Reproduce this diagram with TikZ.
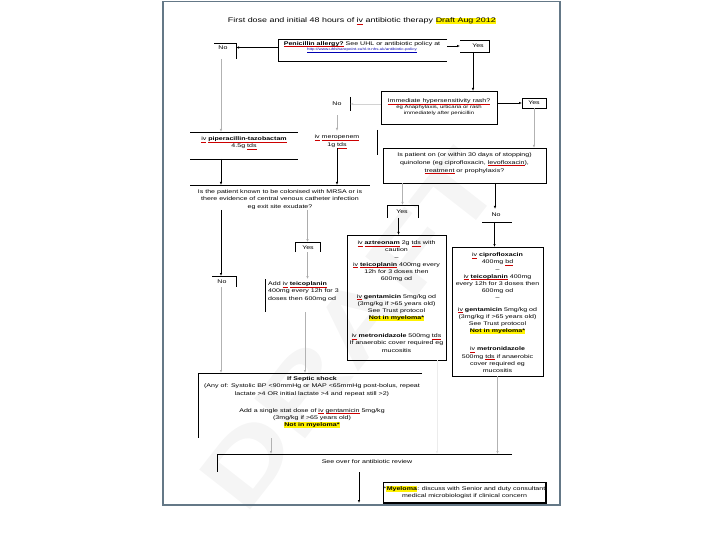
\documentclass[tikz,border=0pt]{standalone}
\usepackage{fontspec}
\setmainfont{Liberation Sans}[FakeStretch=1.33]
\usetikzlibrary{arrows.meta}
\definecolor{framec}{RGB}{100,120,135}
\newcommand\rul[1]{\setbox0\hbox{#1}\rlap{\color{red!80!black}\smash{\rule[-1.1pt]{\wd0}{0.3pt}}}\box0\relax}
\newcommand\hlt[1]{{\setlength{\fboxsep}{0.3pt}\colorbox{yellow}{#1}}}
\begin{document}
\begin{tikzpicture}[x=1pt,y=-1pt,
  txt/.style={font=\fontsize{5.3}{7.1}\selectfont, inner sep=0pt, align=center},
  bx/.style={inner sep=0pt, outer sep=0pt},
  edge/.style={line width=0.8pt, black},
  arr/.style={-{Latex[length=3pt,width=2.4pt]}, line width=0.6pt, black},
  garr/.style={-{Latex[length=3pt,width=2.4pt]}, line width=0.6pt, gray!60},
  tarr/.style={-{Latex[length=3pt,width=2.6pt]}, line width=1.5pt, gray!65}]
\useasboundingbox (0,0) rectangle (720,540);
% watermark
\node[rotate=52, text=gray!8, inner sep=0, font=\fontsize{94}{94}\selectfont\bfseries] (wm) at (350,330) {DRAFT};
% frame
\draw[framec, line width=1.2pt] (163,1.5) rectangle (560,505);
% title
\node[inner sep=0, font=\fontsize{6.7}{9}\selectfont] (title) at (362,21) {First dose and initial 48 hours of \rul{iv} antibiotic therapy \hlt{Draft Aug 2012}};
% penicillin
\node[bx, minimum width=169pt, minimum height=22pt] (pen) at (362.5,50) {};
\draw[edge] (pen.north east) -- (pen.north west) -- (pen.south west) -- (pen.south east);
\node[txt, anchor=north] (penT) at (362,41.3) {\rul{\textbf{Penicillin allergy?}} See UHL or antibiotic policy at\\[-2.2pt] {\fontsize{3.4}{4.5}\selectfont\color{blue!70!black}\underline{http://www.uhlsharepoint.xuhl-tr.nhs.uk/antibiotic-policy}}};
% No A
\node[bx, minimum width=22pt, minimum height=16pt] (noA) at (225,51) {};
\draw[edge] (noA.north west) -- (noA.north east) -- (noA.south east);
\node[txt] (noAt) at (223,48) {No};
\coordinate (pa) at ([yshift=2.5pt]pen.west);
\draw[arr] (pa) -- (noA.east |- pa);
% Yes A
\node[bx, minimum width=29pt, minimum height=12pt] (yesA) at (474.5,46) {};
\draw[edge] (yesA.north west) -- (yesA.north east) -- (yesA.south east) -- (yesA.south west);
\node[txt] (yesAt) at (478,46) {Yes};
\draw[arr] ([yshift=4pt]pen.east) -- (yesA.west);
% hypersensitivity
\node[bx, minimum width=116pt, minimum height=33pt] (hyp) at (439,107.5) {};
\draw[edge] (hyp.north west) rectangle (hyp.south east);
\node[txt, anchor=north] (hypT) at (439,98.8) {\rul{Immediate hypersensitivity rash?}\\[-1.5pt] {\fontsize{4.5}{6}\selectfont eg Anaphylaxis, urticaria or rash}\\[-1.5pt]{\fontsize{4.5}{6}\selectfont immediately after penicillin}};
\draw[arr] ([xshift=-1.5pt]yesA.south) -- ([xshift=-1.5pt]yesA.south |- hyp.north);
% Yes B
\node[bx, minimum width=24pt, minimum height=10pt] (yesB) at (534,103) {};
\draw[edge] (yesB.north west) rectangle (yesB.south east);
\node[txt] (yesBt) at (534,103) {Yes};
\draw[arr] (hyp.east |- yesB.west) -- (yesB.west);
% No B
\node[bx, minimum width=12pt, minimum height=14pt] (noB) at (344,104) {};
\draw[edge] (noB.north east) -- (noB.south east);
\node[txt] (noBt) at (337,104) {No};
\draw[arr, gray!35] (hyp.west |- noB.east) -- (noB.east);
% meropenem
\node[bx, minimum width=80pt, minimum height=25pt] (mero) at (337,142.5) {};
\draw[edge] (mero.north east) -- (mero.south east);
\node[txt, anchor=north] (meroT) at (337,134.8) {\rul{iv} \rul{meropenem}\\[1pt] 1g \rul{tds}};
\draw[garr] ([yshift=-9pt]noBt.south) -- ([yshift=-1pt]noBt.south |- mero.north);
% piperacillin
\node[bx, minimum width=108pt, minimum height=27pt] (pip) at (244,145.5) {};
\draw[edge] (pip.north west) -- (pip.north east);
\draw[edge] (pip.south west) -- (pip.south east);
\node[txt, anchor=north] (pipT) at (244,136.8) {\rul{iv} \rul{\textbf{piperacillin-tazobactam}}\\ 4.5g \rul{tds}};
\draw[garr] ([xshift=-4pt]noA.south) -- ([xshift=-4pt]noA.south |- pip.north);
% quinolone
\node[bx, minimum width=163pt, minimum height=35pt] (quin) at (464.5,165.5) {};
\draw[edge] (quin.north west) rectangle (quin.south east);
\node[txt, anchor=north] (quinT) at (464.5,152.8) {Is patient on (or within 30 days of stopping)\\[0.5pt] quinolone (eg ciprofloxacin, \rul{levofloxacin}),\\[0.5pt] \rul{treatment} or prophylaxis?};
\draw[garr] (yesB.south) -- (yesB.south |- quin.north);
% MRSA
\node[bx, minimum width=180pt, minimum height=25pt] (mrsa) at (280,197.5) {};
\draw[edge] (mrsa.north west) -- (mrsa.north east);
\node[txt, anchor=north] (mrsaT) at (280,189.8) {Is the patient known to be colonised with MRSA or is\\ there evidence of central venous catheter infection\\ eg exit site exudate?};
\draw[arr] ([xshift=-23pt]pip.south) -- ([xshift=-23pt]pip.south |- mrsa.north);
\draw[arr] (meroT.south) -- (meroT.south |- mrsa.north);
% Yes C (quinolone yes)
\node[bx, minimum width=31pt, minimum height=13pt] (yesC) at (402.5,211.5) {};
\draw[edge] (yesC.south west) -- (yesC.north west) -- (yesC.north east) -- (yesC.south east);
\node[txt] (yesCt) at (402,212) {Yes};
\draw[garr] (yesC.north |- quin.south) -- (yesC.north);
% No C
\node[bx, minimum width=30pt, minimum height=14pt] (noC) at (497,215) {};
\draw[edge] (noC.south west) -- (noC.south east);
\node[txt] (noCt) at (496,215) {No};
\draw[arr] ([xshift=-2pt]noC.north |- quin.south) -- ([xshift=-2pt,yshift=-1pt]noC.north);
% aztreonam
\node[bx, minimum width=99pt, minimum height=125pt] (azt) at (396.5,297.5) {};
\draw[edge] (azt.north west) rectangle (azt.south east);
\node[txt, anchor=north] (aztT) at (396.5,240.8) {\rul{iv} \rul{\textbf{aztreonam}} 2g \rul{tds} with\\ caution\\ –\\ \rul{iv} \rul{\textbf{teicoplanin}} 400mg every\\ 12h for 3 doses then\\ 600mg od\\[11pt] \rul{iv} \textbf{gentamicin} 5mg/kg od\\ (3mg/kg if >65 years old)\\ See Trust protocol\\ \hlt{\textbf{Not in myeloma*}}\\[11pt] \rul{iv} \textbf{metronidazole} 500mg \rul{tds}\\ If anaerobic cover required eg\\ mucositis};
\draw[arr] ([xshift=-4pt]yesC.south) -- ([xshift=-4pt]yesC.south |- azt.north);
% ciprofloxacin
\node[bx, minimum width=91pt, minimum height=129pt] (cip) at (497.5,311.5) {};
\draw[edge] (cip.north west) rectangle (cip.south east);
\node[txt, anchor=north] (cipT) at (497.5,252.8) {\rul{iv} \textbf{ciprofloxacin}\\ 400mg \rul{bd}\\ –\\ \rul{iv} \rul{\textbf{teicoplanin}} 400mg\\ every 12h for 3 doses then\\ 600mg od\\ –\\[5pt] \rul{iv} \textbf{gentamicin} 5mg/kg od\\ (3mg/kg if >65 years old)\\ See Trust protocol\\ \hlt{\textbf{Not in myeloma*}}\\[11pt] \rul{iv} \textbf{metronidazole}\\ 500mg \rul{tds} if anaerobic\\ cover required eg\\ mucositis};
\draw[arr] ([xshift=-2.5pt]noC.south) -- ([xshift=-2.5pt]noC.south |- cip.north);
% Yes D (MRSA yes)
\node[bx, minimum width=25pt, minimum height=10pt] (yesD) at (307.5,247) {};
\draw[edge] (yesD.south west) -- (yesD.north west) -- (yesD.north east) -- (yesD.south east);
\node[txt] (yesDt) at (308,248) {Yes};
\draw[tarr] (yesD.north |- mrsa.south) -- (yesD.north);
% teicoplanin
\node[bx, minimum width=80pt, minimum height=33pt] (teic) at (305,295.5) {};
\draw[edge] (teic.north west) -- (teic.south west);
\node[txt, align=left, anchor=north west] (teicT) at (268,281.8) {Add \rul{iv} \rul{\textbf{teicoplanin}}\\ 400mg every 12h for 3\\ doses then 600mg od};
\draw[tarr] (yesD.south) -- (yesD.south |- teic.north);
% No D
\node[bx, minimum width=24pt, minimum height=11pt] (noD) at (224,281.5) {};
\draw[edge] (noD.north west) -- (noD.north east) -- (noD.south east);
\node[txt] (noDt) at (222,282) {No};
\draw[arr] ([xshift=-3pt]noD.north |- mrsa.south) -- ([xshift=-3pt]noD.north);
% septic
\node[bx, minimum width=224pt, minimum height=65pt] (sep) at (310,405.5) {};
\draw[edge] (sep.north east) -- (sep.north west) -- (sep.south west);
\node[txt, anchor=north] (sepT) at (312,376.8) {\textbf{If Septic shock}\\ (Any of: Systolic BP <90mmHg or MAP <65mmHg post-bolus, repeat\\ lactate >4 OR initial lactate >4 and repeat still >2)\\[10pt] Add a single stat dose of \rul{iv} \rul{gentamicin} 5mg/kg\\ (3mg/kg if >65 years old)\\ \hlt{\textbf{Not in myeloma*}}};
\draw[garr] ([xshift=-3pt]noD.south) -- ([xshift=-3pt]noD.south |- sep.north);
\draw[garr] (teic.south) -- (teic.south |- sep.north);
% see over
\node[bx, minimum width=295pt, minimum height=18pt] (see) at (364.5,463) {};
\draw[edge] (see.north east) -- (see.north west) -- (see.south west);
\node[txt] (seeT) at (367,462) {See over for antibiotic review};
\draw[garr] ([xshift=-39pt]sep.south) -- ([xshift=-39pt]sep.south |- see.north);
\draw[arr, gray!15] ([xshift=40.5pt]azt.south) -- ([xshift=40.5pt]azt.south |- see.north);
\draw[garr] (cip.south) -- (cip.south |- see.north);
% note
\node[bx, minimum width=163pt, minimum height=21pt] (note) at (464.5,492.5) {};
\draw[line width=0.6pt] (note.north west) rectangle (note.south east);
\draw[line width=1.3pt] (note.north east) -- (note.south east) -- (note.south west);
\node[txt, anchor=north] (noteT) at (464.5,485.8) {*\hlt{\textbf{Myeloma}}: discuss with Senior and duty consultant\\ medical microbiologist if clinical concern};
\draw[arr] ([xshift=-5.5pt]see.south) -- ([xshift=-5.5pt]see.south |- note.south);
\end{tikzpicture}
\end{document}
